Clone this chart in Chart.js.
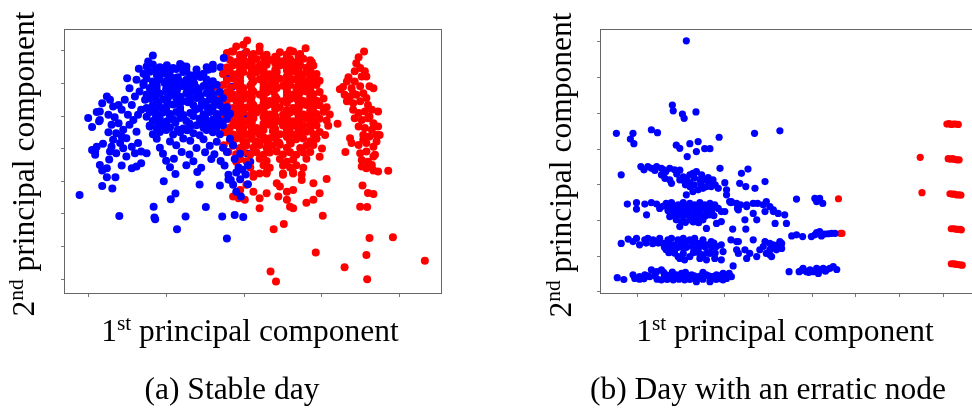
<!DOCTYPE html>
<html><head><meta charset="utf-8">
<script src="https://cdn.jsdelivr.net/npm/chart.js@4.4.0/dist/chart.umd.min.js"></script>
<style>
html,body{margin:0;padding:0;background:#fff;overflow:hidden;width:972px;height:412px;position:relative;}
.cv{position:absolute;}
.t{position:absolute;font-family:"Liberation Serif","DejaVu Serif",serif;font-size:31.5px;line-height:30px;height:30px;width:440px;text-align:center;color:#000;white-space:nowrap;}
.t .s{font-size:0.68em;position:relative;top:-0.5em;}
.r{transform:rotate(-90deg);transform-origin:50% 50%;}
</style></head><body>
<div class="cv" style="left:44px;top:19px;"><canvas id="ca" width="408" height="295" style="width:408px;height:295px"></canvas></div>
<div class="cv" style="left:580px;top:19px;"><canvas id="cb" width="404" height="295" style="width:404px;height:295px"></canvas></div>
<div class="t" style="left:30px;top:316px;">1<span class="s">st</span> principal component</div>
<div class="t r" style="left:-195.6px;top:149px;">2<span class="s">nd</span> principal component</div>
<div class="t" style="left:565px;top:316px;">1<span class="s">st</span> principal component</div>
<div class="t r" style="left:341.4px;top:150px;">2<span class="s">nd</span> principal component</div>
<div class="t" style="left:12px;top:374px;">(a) Stable day</div>
<div class="t" style="left:548px;top:374px;">(b) Day with an erratic node</div>
<script>
// ---- (a) Stable day ----
const stableXTicks = [0,1,2,3,4];
const stableYTicks = [0,1,2,3,4,5,6,7];
const stableXRange = [-0.31, 4.54];
const stableYRange = [-0.46, 7.67];
const stableBlue = [
[-0.11,2.58],[0.40,1.93],[0.84,2.22],[0.85,1.89],[0.86,1.83],[1.14,1.53],[1.25,1.92],[1.51,2.21],[1.72,1.92],[1.78,1.24],[1.88,1.96],[1.99,1.90],
[0.18,2.85],[0.31,2.78],[0.24,3.12],[0.35,3.12],[0.97,3.00],[1.06,2.45],[1.12,2.62],[1.43,2.90],[1.69,2.87],
[0.00,4.94],[0.05,4.66],[0.11,5.12],[0.14,4.84],[0.50,6.16],[0.83,6.86],[0.77,6.67],[0.65,6.45],[0.96,6.45],[1.20,6.55],[1.54,6.42],[1.60,6.57],[1.74,6.78],
[0.05,3.96],[0.09,3.81],[0.15,3.50],[0.18,3.33],[0.24,3.40],[0.27,3.67],[0.28,3.91],[0.19,4.15],[0.26,4.50],[0.30,4.73],[0.34,4.96],[0.26,5.04],[0.15,4.88],[0.18,5.39],[0.24,5.60],[0.32,5.29],[0.39,5.34],[0.43,5.19],[0.36,4.47],[0.41,4.17],[0.45,4.01],[0.49,4.32],[0.56,4.06],[0.60,3.86],[0.64,4.17],[0.68,3.91],[0.56,3.40],[0.62,3.45],[0.68,3.55],[0.75,3.86],[0.43,3.48],[0.53,4.73],[0.51,5.04],[0.56,5.34],[0.60,5.60],[0.66,5.75],[0.73,5.50],[0.68,5.19],[0.75,4.98],[0.79,4.68],[0.62,4.52],[0.45,4.58],[0.39,4.78],[0.32,4.27],[0.11,4.06],[0.09,3.91],[0.36,3.86],[0.49,3.76],[0.30,4.06],[0.43,4.37],[0.58,4.88],[0.64,5.04],[0.47,5.50],[0.53,5.85],[0.62,6.11],[0.71,6.01],[0.15,5.14],[0.28,5.50],
[0.75,6.52],[0.83,6.58],[0.92,6.50],[1.01,6.56],[1.09,6.47],[1.18,6.60],[1.26,6.52],[1.52,6.50],[1.60,6.45],
[0.71,6.30],[0.79,6.36],[0.88,6.27],[0.96,6.31],[1.05,6.37],[1.22,6.35],[1.31,6.25],[1.39,6.32],[1.48,6.30],
[0.75,6.15],[0.83,6.06],[0.92,6.12],[1.01,6.08],[1.09,6.17],[1.18,6.05],[1.26,6.11],[1.35,6.16],[1.52,6.12],[1.60,6.07],
[0.71,5.95],[0.79,5.86],[0.88,5.92],[1.05,5.97],[1.13,5.86],[1.22,5.91],[1.31,5.96],[1.39,5.87],[1.48,5.92],[1.56,5.88],[1.65,5.96],
[0.75,5.66],[0.83,5.74],[0.92,5.68],[1.01,5.72],[1.09,5.76],[1.26,5.70],[1.35,5.75],[1.43,5.64],[1.52,5.71],[1.60,5.67],[1.69,5.74],
[0.79,5.54],[0.88,5.45],[0.96,5.51],[1.13,5.56],[1.22,5.46],[1.31,5.50],[1.39,5.55],[1.48,5.44],[1.56,5.51],[1.65,5.47],[1.73,5.55],
[0.75,5.25],[0.83,5.33],[0.92,5.27],[1.01,5.31],[1.09,5.35],[1.18,5.26],[1.35,5.33],[1.43,5.24],[1.52,5.30],[1.60,5.26],[1.69,5.33],[1.78,5.27],
[0.79,5.12],[0.88,5.04],[0.96,5.11],[1.05,5.06],[1.13,5.12],[1.22,5.03],[1.31,5.09],[1.48,5.05],[1.56,5.12],[1.65,5.06],[1.73,5.13],[1.82,5.07],
[0.83,4.85],[0.92,4.92],[1.01,4.84],[1.09,4.89],[1.18,4.94],[1.26,4.85],[1.43,4.92],[1.52,4.84],[1.60,4.89],[1.69,4.85],[1.78,4.92],
[0.79,4.71],[0.88,4.63],[0.96,4.70],[1.05,4.65],[1.22,4.62],[1.31,4.68],[1.39,4.72],[1.48,4.64],[1.56,4.69],[1.65,4.65],[1.73,4.72],
[0.83,4.44],[0.92,4.51],[1.09,4.43],[1.18,4.50],[1.35,4.47],[1.43,4.41],[1.60,4.50],[1.69,4.44],
[0.88,4.30],[1.05,4.22],[1.22,4.31],[1.31,4.24],[1.48,4.29],[1.65,4.21],[1.82,4.30],
[0.92,4.03],[1.13,4.10],[1.39,4.02],[1.56,4.09],[1.73,4.03],[1.86,4.10],
[0.96,3.84],[1.20,3.90],[1.30,3.82],[1.50,3.89],[1.62,3.83],[1.78,3.90],[1.95,3.84],
[1.00,3.63],[1.10,3.69],[1.35,3.61],[1.58,3.68],[1.70,3.62],[1.88,3.68],
[1.05,3.43],[1.26,3.49],[1.45,3.41],[1.75,3.48],[1.93,3.42],[2.05,3.49],
[1.12,3.22],[1.40,3.28],[1.80,3.20],[1.90,3.27],[2.02,3.21],
[1.83,3.04],[1.95,3.06],[1.86,2.89],[2.05,2.91],[1.90,2.68],[1.96,2.53],
[0.87,6.42],[1.00,6.40],[1.13,6.44],[1.26,6.41],[1.39,6.43],
[0.90,6.20],[1.03,6.22],[1.15,6.19],[1.30,6.21],[1.44,6.20],
[0.84,6.00],[0.98,6.01],[1.10,5.99],[1.24,6.02],[1.36,6.00],[1.52,6.01],
[0.88,5.80],[1.00,5.82],[1.14,5.79],[1.28,5.81],[1.42,5.80],[1.57,5.79],
[0.86,5.60],[1.04,5.61],[1.18,5.59],[1.30,5.62],[1.44,5.60],[1.60,5.58],
[0.90,5.40],[1.02,5.41],[1.16,5.39],[1.28,5.42],[1.46,5.40],[1.62,5.41],
[0.86,5.18],[1.00,5.19],[1.18,5.17],[1.38,5.20],[1.54,5.18],
[0.87,4.98],[1.05,4.99],[1.22,4.97],[1.35,5.00],[1.50,4.98],[1.66,4.97],
[0.90,4.78],[1.12,4.79],[1.30,4.77],[1.47,4.80],[1.62,4.78],
[1.00,4.57],[1.15,4.58],[1.27,4.56],[1.52,4.57]
];
const stableRed = [
[2.04,7.32],[1.90,7.13],[1.84,6.98],[1.99,7.19],[2.20,7.13],[2.59,7.01],[2.79,7.08],[2.87,6.65],
[1.78,6.93],[1.86,6.98],[1.95,6.88],[2.03,6.97],[2.12,6.90],[2.20,6.99],[2.29,6.88],[2.46,6.96],[2.55,6.89],[2.63,6.98],[2.72,6.90],
[1.82,6.72],[1.90,6.66],[1.99,6.76],[2.08,6.68],[2.16,6.75],[2.33,6.72],[2.42,6.77],[2.50,6.68],[2.59,6.75],[2.67,6.66],[2.76,6.76],[2.85,6.71],
[1.78,6.49],[1.86,6.56],[1.95,6.48],[2.03,6.55],[2.12,6.47],[2.20,6.54],[2.29,6.57],[2.46,6.55],[2.55,6.47],[2.63,6.54],[2.72,6.56],[2.80,6.48],[2.89,6.55],
[1.73,6.29],[1.82,6.36],[1.90,6.28],[1.99,6.35],[2.08,6.27],[2.16,6.34],[2.25,6.37],[2.33,6.28],[2.42,6.35],[2.59,6.34],[2.67,6.36],[2.76,6.28],[2.85,6.35],[2.93,6.29],
[1.78,6.08],[1.86,6.15],[1.95,6.07],[2.12,6.06],[2.20,6.13],[2.29,6.16],[2.37,6.07],[2.46,6.14],[2.55,6.06],[2.63,6.13],[2.72,6.15],[2.80,6.07],[2.89,6.14],[2.97,6.08],
[1.65,5.88],[1.73,5.95],[1.82,5.87],[1.90,5.94],[1.99,5.86],[2.08,5.93],[2.25,5.87],[2.33,5.94],[2.42,5.86],[2.50,5.93],[2.59,5.95],[2.67,5.87],[2.76,5.94],[2.85,5.88],[2.93,5.95],
[1.78,5.73],[1.86,5.66],[1.95,5.74],[2.03,5.67],[2.12,5.75],[2.20,5.66],[2.29,5.73],[2.37,5.76],[2.55,5.74],[2.63,5.66],[2.72,5.73],[2.80,5.75],[2.89,5.67],[2.97,5.74],
[1.73,5.47],[1.82,5.54],[1.90,5.46],[1.99,5.53],[2.08,5.45],[2.25,5.55],[2.33,5.46],[2.42,5.53],[2.50,5.45],[2.59,5.52],[2.67,5.54],[2.76,5.46],[2.85,5.53],[2.93,5.47],[3.02,5.54],
[1.78,5.32],[1.86,5.25],[1.95,5.33],[2.03,5.26],[2.12,5.34],[2.20,5.25],[2.29,5.32],[2.37,5.35],[2.46,5.26],[2.63,5.25],[2.72,5.32],[2.80,5.34],[2.89,5.26],[2.97,5.33],[3.06,5.27],
[1.73,5.06],[1.82,5.13],[1.90,5.05],[1.99,5.12],[2.08,5.04],[2.16,5.11],[2.25,5.14],[2.33,5.05],[2.50,5.04],[2.59,5.11],[2.67,5.13],[2.76,5.05],[2.85,5.12],[2.93,5.06],[3.02,5.13],[3.10,5.05],
[1.78,4.91],[1.86,4.84],[1.95,4.92],[2.03,4.85],[2.12,4.93],[2.29,4.91],[2.37,4.94],[2.46,4.85],[2.55,4.92],[2.63,4.84],[2.72,4.91],[2.80,4.93],[2.89,4.85],[2.97,4.92],[3.06,4.86],
[1.82,4.65],[1.90,4.72],[1.99,4.64],[2.08,4.71],[2.16,4.63],[2.25,4.70],[2.33,4.73],[2.50,4.71],[2.59,4.63],[2.67,4.70],[2.76,4.72],[2.85,4.64],[2.93,4.71],
[1.78,4.50],[1.86,4.43],[1.95,4.51],[2.03,4.44],[2.12,4.52],[2.20,4.43],[2.37,4.53],[2.46,4.44],[2.55,4.51],[2.63,4.43],[2.72,4.50],[2.80,4.52],[2.89,4.44],[2.97,4.51],
[1.82,4.24],[1.90,4.31],[1.99,4.23],[2.08,4.30],[2.16,4.22],[2.25,4.29],[2.33,4.32],[2.42,4.23],[2.59,4.22],[2.67,4.29],[2.76,4.31],[2.85,4.23],[2.93,4.30],
[1.86,4.09],[1.95,4.02],[2.03,4.10],[2.12,4.03],[2.20,4.11],[2.29,4.02],[2.37,4.09],[2.46,4.12],[2.55,4.03],[2.72,4.02],[2.80,4.09],[2.89,4.11],
[1.90,3.83],[1.99,3.90],[2.08,3.82],[2.16,3.89],[2.25,3.81],[2.33,3.88],[2.42,3.91],[2.50,3.82],[2.59,3.89],[2.67,3.81],[2.76,3.88],[2.85,3.90],
[1.95,3.68],[2.03,3.61],[2.20,3.69],[2.29,3.62],[2.46,3.68],[2.55,3.60],[2.63,3.67],[2.80,3.69],
[2.08,3.42],[2.25,3.49],[2.33,3.41],[2.50,3.48],[2.59,3.42],[2.67,3.49],[2.76,3.41],
[2.12,3.22],[2.29,3.28],[2.50,3.20],[2.63,3.27],[2.74,3.21],
[1.69,5.60],[1.71,5.30],[1.74,4.50],[1.74,4.10],[1.80,3.90],[1.90,3.60],[3.08,4.70],[3.04,4.42],[3.00,4.00],[2.97,3.75],
[2.12,3.14],[2.20,3.24],[2.29,3.24],[2.50,3.24],[2.63,3.24],[2.74,3.04],[2.89,2.94],[2.97,2.63],[3.06,3.07],[1.95,2.73],[2.03,2.89],[2.12,2.68],[2.20,2.48],[2.29,2.63],[2.42,2.94],[2.46,2.84],[2.55,2.68],[2.63,2.73],[2.44,2.53],[2.55,2.43],[2.59,2.22],[2.63,2.17],[2.80,2.34],[2.89,2.43],[1.86,2.53],[1.93,2.48],[2.01,2.43],[2.20,2.17],[3.01,1.94],[2.38,1.53],[2.51,1.69],
[2.92,0.81],[2.34,0.23],[2.41,-0.08],[3.29,0.36],[3.57,0.74],[3.58,-0.01],[3.61,1.26],[3.91,1.28],[4.32,0.56],[3.85,3.32],[3.49,2.22],[3.58,2.21],[3.52,2.87],[3.59,2.64],[3.66,2.61],[3.30,3.90],[3.20,4.76],
[3.54,6.98],[3.47,6.80],[3.44,6.62],[3.49,6.47],[3.42,6.37],[3.55,6.37],[3.57,6.21],[3.34,6.19],[3.32,6.06],[3.42,6.06],[3.27,5.89],[3.23,5.82],[3.38,5.85],[3.49,5.91],[3.61,5.91],[3.66,5.85],[3.29,5.65],[3.36,5.60],[3.44,5.65],[3.53,5.70],[3.57,5.55],[3.32,5.45],[3.40,5.39],[3.49,5.45],[3.59,5.34],[3.40,5.19],[3.47,5.09],[3.55,5.14],[3.64,5.19],[3.72,5.14],[3.42,4.93],[3.51,4.88],[3.59,4.93],[3.66,4.78],[3.47,4.68],[3.55,4.63],[3.64,4.58],[3.72,4.68],[3.53,4.42],[3.61,4.37],[3.70,4.42],[3.74,4.42],[3.38,4.17],[3.47,4.11],[3.57,4.17],[3.66,4.06],[3.49,3.86],[3.57,3.91],[3.68,3.81],[3.51,3.65],[3.59,3.60],[3.66,3.76],[3.51,3.45],[3.57,3.40],[3.66,3.33],[3.72,3.30],[3.36,4.32],[3.70,4.22],[3.51,6.21],[3.40,5.70],[3.61,4.98],[3.53,4.27],[3.64,3.50],
[1.95,6.82],[2.10,6.81],[2.25,6.83],[2.40,6.82],[2.55,6.80],[2.70,6.83],
[1.95,6.62],[2.10,6.61],[2.25,6.63],[2.40,6.62],[2.55,6.60],[2.70,6.63],[2.85,6.61],
[1.95,6.40],[2.10,6.41],[2.25,6.39],[2.40,6.42],[2.55,6.40],[2.70,6.41],[2.85,6.39],
[1.95,6.20],[2.10,6.19],[2.25,6.21],[2.40,6.20],[2.55,6.22],[2.70,6.19],[2.85,6.21],
[1.95,5.98],[2.10,6.00],[2.25,5.99],[2.40,5.97],[2.55,6.00],[2.70,5.98],[2.85,6.00],
[1.95,5.80],[2.10,5.81],[2.25,5.79],[2.40,5.82],[2.55,5.80],[2.70,5.81],[2.85,5.79],
[1.95,5.60],[2.10,5.59],[2.25,5.61],[2.40,5.60],[2.55,5.62],[2.70,5.59],[2.85,5.61],
[1.95,5.40],[2.10,5.41],[2.25,5.39],[2.40,5.42],[2.55,5.40],[2.70,5.41],[2.85,5.39],
[1.95,5.18],[2.10,5.19],[2.25,5.17],[2.40,5.20],[2.55,5.18],[2.70,5.19],[2.85,5.17],
[1.95,4.98],[2.10,4.99],[2.25,4.97],[2.40,5.00],[2.55,4.98],[2.70,4.99],[2.85,4.97],
[1.95,4.78],[2.10,4.79],[2.25,4.77],[2.40,4.80],[2.55,4.78],[2.70,4.79],[2.85,4.77],
[1.95,4.58],[2.10,4.59],[2.25,4.57],[2.40,4.60],[2.55,4.58],[2.70,4.59],[2.85,4.57],
[1.95,4.36],[2.10,4.37],[2.25,4.35],[2.40,4.38],[2.55,4.36],[2.70,4.37],
[2.00,4.16],[2.15,4.17],[2.30,4.15],[2.45,4.18],[2.60,4.16]
];
// blue points of (a) that lie on top of the red cloud
const stableBlueFront = [[1.70,6.50],[1.78,6.20],[1.85,5.90],[1.95,5.40],[2.05,5.00],[1.98,4.60],[1.87,4.30],[1.95,4.00],[2.08,3.60],[1.98,3.35],[2.00,6.90],[1.82,5.05],[1.92,4.70],[2.04,3.85],[1.80,3.05]];

// ---- (b) Day with an erratic node ----
const erraticXTicks = [0,1,2,3,4,5,6,7];
const erraticYTicks = [0,1,2,3,4,5,6,7];
const erraticXRange = [-0.855, 7.70];
const erraticYRange = [-0.056, 7.36];
const erraticBlue = [
[1.12,7.03],[0.80,5.23],[0.82,5.07],[1.03,4.98],[1.07,4.86],[1.34,5.04],[-0.48,4.44],[-0.10,4.44],[-0.16,4.28],[-0.08,4.15],[0.32,4.54],[0.46,4.46],[0.89,4.11],[0.97,4.02],[1.20,4.15],[1.39,4.21],[1.35,3.93],[1.54,4.01],[1.66,4.01],[1.14,3.79],[1.87,4.33],[2.68,4.44],[3.26,4.51],[-0.37,3.28],
[0.08,3.51],[0.24,3.51],[0.32,3.46],[0.44,3.51],[0.55,3.46],[0.65,3.37],[0.74,3.46],[0.85,3.42],[0.97,3.41],
[0.55,3.28],[0.63,3.18],[0.74,3.14],[0.78,3.04],[0.97,3.14],[1.08,3.09],[1.20,3.06],[1.43,3.14],[1.20,3.28],[1.27,3.32],[1.35,3.37],[1.47,3.28],[1.54,3.14],[1.66,3.04],[1.73,3.14],[1.89,3.46],[2.00,3.06],[2.04,2.72],[2.11,2.53],[1.85,2.90],[2.04,2.86],[1.20,2.95],[1.27,2.81],[1.39,2.86],[1.50,2.90],[1.12,2.72],[1.58,2.95],[1.69,2.95],[2.38,3.32],[2.53,3.44],[2.34,3.04],[2.69,2.90],[2.92,3.09],[2.50,2.44],[2.48,2.95],
[0.15,3.42],[0.40,3.40],[0.60,3.42],[0.90,3.30],[1.05,3.22],[1.12,3.18],[1.30,3.20],[1.62,3.20],[1.10,3.00],[1.30,3.00],[1.45,3.02],[1.78,3.00],
[-0.23,2.46],[-0.02,2.50],[-0.02,2.32],[0.17,2.46],[0.21,2.16],[0.32,2.50],[0.44,2.46],[0.51,2.34],[0.66,2.48],[0.78,2.50],[0.82,2.34],[0.85,2.20],[0.93,2.44],[1.05,2.50],[1.12,2.39],[1.20,2.48],[1.31,2.44],[1.43,2.50],[1.54,2.44],[1.66,2.48],[1.77,2.44],[1.85,2.34],[1.92,2.25],[2.00,2.25],[0.74,2.11],[0.89,2.02],[1.01,1.97],[1.20,2.02],[1.35,2.06],[1.50,2.02],[0.97,1.83],[1.58,1.78],[1.81,1.92],[1.92,1.97],
[0.58,2.40],[0.70,2.38],[0.90,2.40],[1.00,2.36],[1.16,2.40],[1.28,2.37],[1.40,2.40],[1.50,2.36],[1.62,2.40],[1.72,2.37],[0.70,2.28],[0.80,2.26],[0.95,2.28],[1.08,2.26],[1.22,2.29],[1.32,2.26],[1.45,2.28],[1.60,2.26],[1.70,2.28],[0.80,2.14],[0.92,2.15],[1.05,2.13],[1.15,2.16],[1.30,2.14],[1.42,2.15],[1.55,2.13],[1.65,2.16],[1.75,2.14],[1.10,1.95],[1.28,1.96],[1.40,1.94],
[2.27,2.48],[2.31,2.30],[2.50,2.39],[2.46,2.02],[2.65,2.48],[2.65,2.20],[2.73,2.02],[2.88,2.44],[2.92,2.25],[2.95,2.53],[3.03,2.39],[3.11,2.25],[3.15,1.92],[3.22,2.20],[3.37,2.16],[3.41,1.92],[3.11,2.30],[2.15,2.53],[2.36,2.44],[2.14,2.50],[2.29,2.34],[2.75,2.48],
[-0.37,1.36],[-0.21,1.48],[-0.10,1.41],[-0.02,1.50],[0.05,1.32],[0.17,1.46],[0.24,1.50],[0.36,1.46],[0.44,1.41],[0.51,1.50],[0.59,1.36],[0.70,1.46],[0.78,1.50],[0.85,1.32],[0.93,1.46],[1.05,1.50],[1.12,1.41],[1.20,1.46],[1.31,1.50],[1.39,1.36],[1.50,1.46],[1.58,1.32],[1.69,1.41],[1.81,1.27],[1.92,1.32],[1.96,1.13],[0.66,1.18],[0.82,1.18],[0.93,0.99],[1.05,1.08],[1.20,0.99],[1.35,1.18],[1.50,1.04],[1.66,1.08],[1.77,0.94],[1.92,0.90],[0.97,0.94],[1.08,0.90],[1.58,0.90],[1.43,0.94],[2.19,0.73],
[0.62,1.25],[0.75,1.27],[0.90,1.24],[1.00,1.26],[1.12,1.25],[1.25,1.27],[1.40,1.24],[1.55,1.26],[1.70,1.25],[0.20,1.37],[0.35,1.35],[0.48,1.37],[0.72,1.36],[1.00,1.37],[1.25,1.35],[1.50,1.36],[1.75,1.37],[0.72,1.10],[0.85,1.09],[1.28,1.10],[1.42,1.08],[1.60,1.10],[1.78,1.09],
[2.27,1.41],[2.27,1.18],[2.31,1.08],[2.46,1.18],[2.50,0.94],[2.57,1.08],[2.65,1.46],[2.73,0.99],[2.80,1.18],[2.88,1.27],[2.92,1.41],[2.95,1.08],[3.03,1.18],[3.07,0.99],[3.11,1.32],[3.18,1.18],[3.26,1.41],[3.30,1.22],[3.03,1.36],[3.11,1.27],[3.22,1.32],[3.30,1.36],[3.03,1.04],[2.18,1.76],[2.48,1.76],[2.14,1.46],[2.31,1.41],
[3.53,1.57],[3.64,1.60],[3.78,1.55],[3.98,1.55],[4.06,1.60],[4.10,1.66],[4.17,1.69],[4.21,1.57],[4.44,1.64],[4.52,1.64],[4.28,1.62],[4.36,1.63],
[3.64,2.60],[4.06,2.62],[4.17,2.62],[4.10,2.53],[4.24,2.48],
[-0.46,0.40],[-0.31,0.35],[-0.10,0.48],[-0.06,0.38],[0.05,0.43],[0.17,0.48],[0.32,0.62],[0.44,0.57],[0.55,0.62],[0.66,0.48],[0.78,0.43],[0.89,0.48],[1.01,0.52],[1.12,0.43],[1.24,0.48],[1.35,0.38],[1.47,0.43],[1.58,0.48],[1.69,0.43],[1.81,0.48],[1.96,0.52],[2.04,0.38],[2.15,0.43],[0.28,0.43],[0.55,0.34],[0.82,0.34],[1.08,0.34],[1.35,0.29],[1.66,0.29],[1.96,0.34],
[0.24,0.45],[0.40,0.46],[0.62,0.45],[0.72,0.44],[0.95,0.45],[1.05,0.44],[1.18,0.46],[1.30,0.45],[1.42,0.44],[1.52,0.46],[1.63,0.45],[1.75,0.44],[1.88,0.45],[0.05,0.36],[0.15,0.37],[0.45,0.36],[0.68,0.35],[0.95,0.36],[1.20,0.35],[1.50,0.36],[1.80,0.35],[1.90,0.37],[0.60,0.55],[0.80,0.56],[1.10,0.55],[1.50,0.55],[2.10,0.52],
[3.47,0.57],[3.70,0.57],[3.79,0.66],[3.87,0.57],[3.95,0.62],[4.02,0.57],[4.10,0.66],[4.14,0.52],[4.18,0.62],[4.25,0.66],[4.33,0.62],[4.40,0.66],[4.48,0.71],[4.56,0.63],[3.75,0.60],[3.92,0.55],[4.30,0.58]
];
const erraticRed = [
[6.47,3.77],[6.51,2.78],[4.60,2.61],[4.65,1.64],[4.68,1.64],
[7.08,4.70],[7.13,4.71],[7.18,4.69],[7.23,4.70],[7.28,4.70],[7.34,4.69],
[7.11,3.73],[7.16,3.72],[7.21,3.73],[7.26,3.71],[7.31,3.70],[7.36,3.70],
[7.15,2.75],[7.20,2.74],[7.25,2.74],[7.30,2.72],[7.35,2.72],[7.40,2.71],
[7.18,1.77],[7.23,1.77],[7.28,1.76],[7.33,1.75],[7.38,1.75],[7.41,1.74],
[7.18,0.79],[7.23,0.79],[7.28,0.78],[7.33,0.77],[7.38,0.76],[7.43,0.75]
];

const BLUE = '#0000ff', RED = '#ff0000';

const frame = {
  id:'frame',
  afterDraw(chart){
    const a = chart.chartArea, c = chart.ctx;
    c.save();
    c.strokeStyle = '#666';
    c.lineWidth = 1;
    c.strokeRect(Math.round(a.left)+0.5, Math.round(a.top)+0.5, Math.round(a.right-a.left)-1, Math.round(a.bottom-a.top)-1);
    c.restore();
  }
};

function toPts(arr){ return arr.map(p => ({x:p[0], y:p[1]})); }
function ds(arr, color, radius){
  return {data:toPts(arr), backgroundColor:color, borderWidth:0, pointRadius:radius, pointHoverRadius:radius, clip:false};
}

function makeChart(id, datasets, xr, yr, xt, yt){
  const axis = (range, ticks, horiz) => ({
    type:'linear', min:range[0], max:range[1],
    afterBuildTicks: s => { s.ticks = ticks.map(v => ({value:v})); },
    afterFit: s => { if (horiz) s.height = 20; else s.width = 20; },
    ticks:{display:false},
    grid:{drawOnChartArea:false, drawTicks:true, tickLength:3, color:'#777', lineWidth:1},
    border:{display:false}
  });
  return new Chart(document.getElementById(id), {
    type:'scatter',
    data:{datasets},
    options:{
      responsive:false, animation:false, events:[],
      layout:{padding:{left:0, top:10, right:10, bottom:0}},
      plugins:{legend:{display:false}, tooltip:{enabled:false}, title:{display:false}},
      scales:{ x: axis(xr, xt, true), y: axis(yr, yt, false) }
    },
    plugins:[frame]
  });
}

makeChart('ca', [ds(stableBlue, BLUE, 4), ds(stableRed, RED, 4), ds(stableBlueFront, BLUE, 4)],
  stableXRange, stableYRange, stableXTicks, stableYTicks);
makeChart('cb', [ds(erraticBlue, BLUE, 3.6), ds(erraticRed, RED, 3.6)],
  erraticXRange, erraticYRange, erraticXTicks, erraticYTicks);
</script>
</body></html>
